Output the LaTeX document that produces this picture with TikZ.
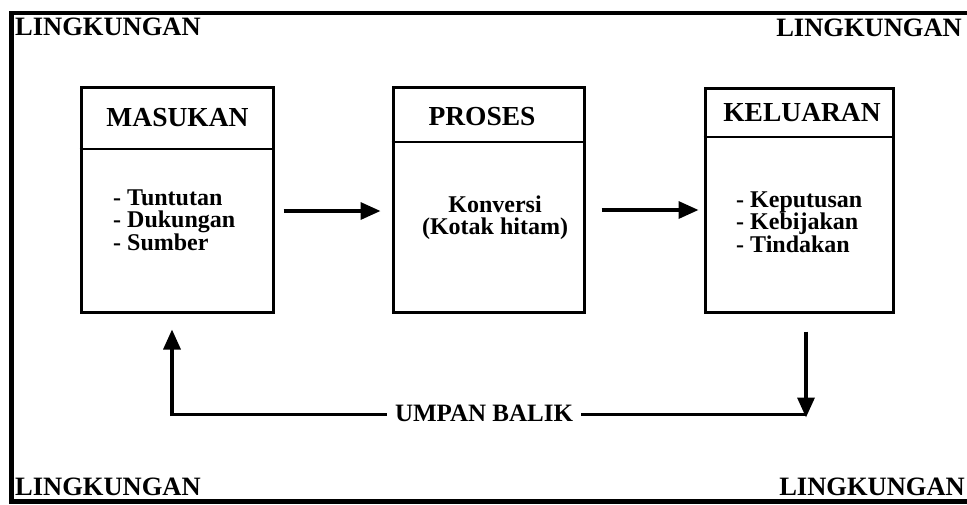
\documentclass[tikz,border=0pt]{standalone}
\usepackage{fontspec}
\setmainfont{Liberation Serif}
\usetikzlibrary{arrows.meta,calc}
\begin{document}
\begin{tikzpicture}[x=1pt,y=-1pt,
  frameline/.style={line width=4.5pt},
  box/.style={draw, line width=3pt, rectangle, inner sep=0pt},
  divider/.style={line width=2.8pt},
  title/.style={font=\fontsize{27.5}{30}\selectfont\bfseries, inner sep=0pt},
  body/.style={font=\fontsize{24}{22.5}\selectfont\bfseries, inner sep=0pt},
  env/.style={font=\fontsize{26.5}{30}\selectfont\bfseries, inner sep=0pt},
  flow/.style={line width=3.4pt, -{Triangle[length=20pt,width=17pt]}},
  plain/.style={line width=3.4pt}
]
\useasboundingbox (0,0) rectangle (967,504);

% outer frame (open on the right)
\draw[frameline, line width=4.5pt] (10,13) -- (967,13);
\draw[frameline, line width=5pt] (11.5,11) -- (11.5,504);
\draw[frameline, line width=5pt] (9,501.5) -- (967,501.5);

% environment labels in the corners
\node[env, anchor=west] (envTL) at (15,27) {LINGKUNGAN};
\node[env, anchor=east] (envTR) at (962,28) {LINGKUNGAN};
\node[env, anchor=west] (envBL) at (15,487) {LINGKUNGAN};
\node[env, anchor=east] (envBR) at (965,487) {LINGKUNGAN};

% the three system boxes
\node[box, minimum width=192pt, minimum height=225pt] (mas) at (177,199.5) {};
\node[box, minimum width=191pt, minimum height=225pt] (pro) at (488.5,199.5) {};
\node[box, minimum width=188pt, minimum height=224pt] (kel) at (799,200) {};

\draw[divider] (mas.west |- 0,149) -- (mas.east |- 0,149);
\draw[divider] (pro.west |- 0,142) -- (pro.east |- 0,142);
\draw[divider] (kel.west |- 0,137) -- (kel.east |- 0,137);

\node[title] (masT) at (177.5,118) {MASUKAN};
\node[title] (proT) at (482,117) {PROSES};
\node[title] (kelT) at (802,113) {KELUARAN};

\node[body, anchor=west, align=left] (masB) at (113,220)
  {- Tuntutan\\- Dukungan\\- Sumber};
\node[body, align=center] (proB) at (495,217.5)
  {Konversi\\(Kotak hitam)};
\node[body, anchor=west, align=left] (kelB) at (736,222)
  {- Keputusan\\- Kebijakan\\- Tindakan};

% forward flow
\draw[flow] ($(mas.east)+(9,11.5)$) -- ($(pro.west)+(-11,11.5)$);
\draw[flow] ($(pro.east)+(16,10.5)$) -- ($(kel.west)+(-5,10)$);

% feedback loop
\node[body, font=\fontsize{25}{28}\selectfont\bfseries, inner xsep=8pt] (fb) at (484,413) {UMPAN BALIK};
\coordinate (cR) at ($(kel.south)+(7,101)$);
\coordinate (cL) at ($(mas.south)+(-5,101)$);
\draw[flow] ($(kel.south)+(7,18)$) -- ($(cR)+(0,3)$);
\draw[plain] (cR) -- (cR -| fb.east);
\draw[plain] (fb.west |- cL) -- ($(cL)+(-1.7,0)$);
\draw[flow] ($(cL)+(0,1.7)$) -- ($(mas.south)+(-5,16)$);
\end{tikzpicture}
\end{document}
